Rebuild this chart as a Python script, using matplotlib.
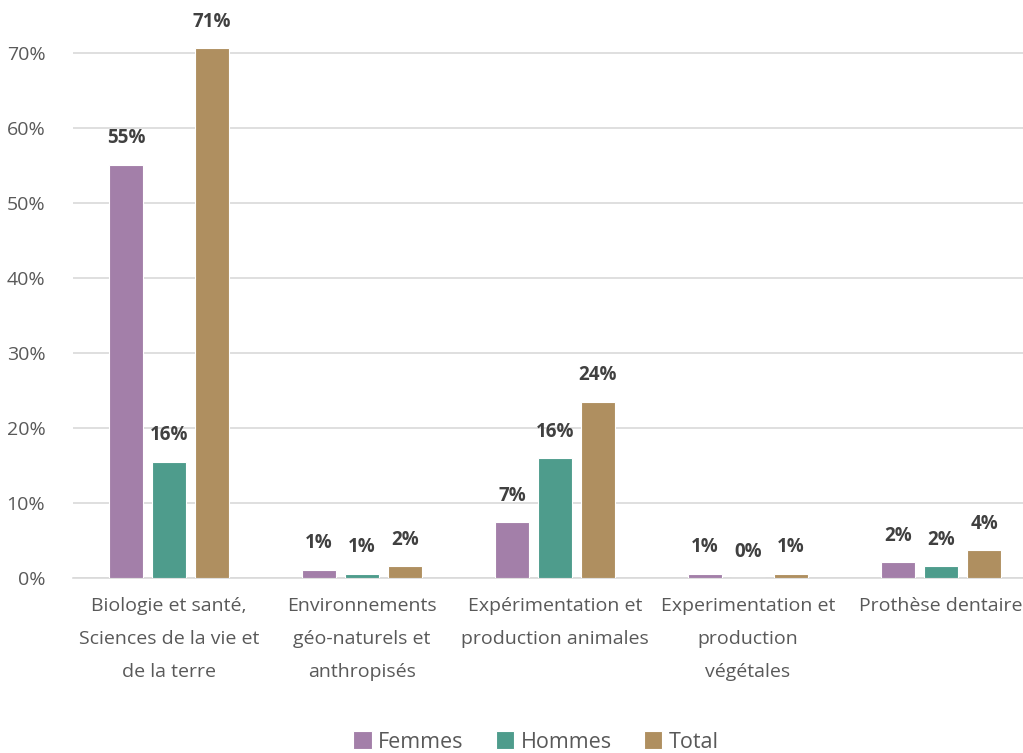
import matplotlib.pyplot as plt
import numpy as np

# Data
categories = ["Biologie et santé,\nSciences de la vie et\nde la terre",
              "Environnements\ngéo-naturels et\nanthropisés",
              "Expérimentation et\nproduction animales",
              "Experimentation et\nproduction\nvégétales",
              "Prothèse dentaire"]
femmes = [0.551, 0.011, 0.074, 0.006, 0.021]
hommes = [0.155, 0.006, 0.160, 0.000, 0.016]
total = [0.706, 0.016, 0.235, 0.006, 0.037]
series_names = ["Femmes", "Hommes", "Total"]
colors = ["#A37FA9", "#4E9C8C", "#AF8F60"]

plt.rcParams['font.family'] = ['Open Sans', 'DejaVu Sans']

fig = plt.figure(figsize=(10.23, 7.53), dpi=100)
ax = fig.add_axes([0.0714, 0.2324, 0.9286, 0.7371])

x = np.arange(len(categories))
w = 0.176
step = 0.223
for i, (vals, name, c) in enumerate(zip([femmes, hommes, total], series_names, colors)):
    pos = x + (i - 1) * step
    ax.bar(pos, vals, width=w, color=c, edgecolor='white', linewidth=0.8, label=name, zorder=3)
    for px, v in zip(pos, vals):
        ax.annotate(f"{v*100:.0f}%", (px, v), xytext=(0, 19), textcoords='offset points',
                    ha='center', va='center', fontsize=13.5, fontweight='bold', color='#404040')

ax.set_xlim(-0.497, 4.425)
ax.set_ylim(0, 0.74)
ax.set_yticks(np.arange(0, 0.71, 0.1))
ax.set_yticklabels([f"{int(round(t*100))}%" for t in np.arange(0, 0.71, 0.1)])
ax.yaxis.grid(True, color='#D9D9D9', linewidth=1.2, zorder=0)
ax.set_axisbelow(True)
ax.set_xticks(x)
ax.set_xticklabels(categories, linespacing=2.05)
ax.tick_params(axis='both', length=0, labelsize=14, colors='#595959')
ax.tick_params(axis='x', pad=14)
ax.tick_params(axis='y', pad=20)
for s in ['top', 'right', 'left']:
    ax.spines[s].set_visible(False)
ax.spines['bottom'].set_color('#D9D9D9')
ax.spines['bottom'].set_linewidth(1.2)

fig.legend(loc='center', bbox_to_anchor=(536/1023, 1 - 742/753), ncol=3, frameon=False,
           fontsize=15.5, labelcolor='#595959', handlelength=0.85, handleheight=0.85,
           columnspacing=1.5, handletextpad=0.3)

plt.savefig('out.png', dpi=100)
